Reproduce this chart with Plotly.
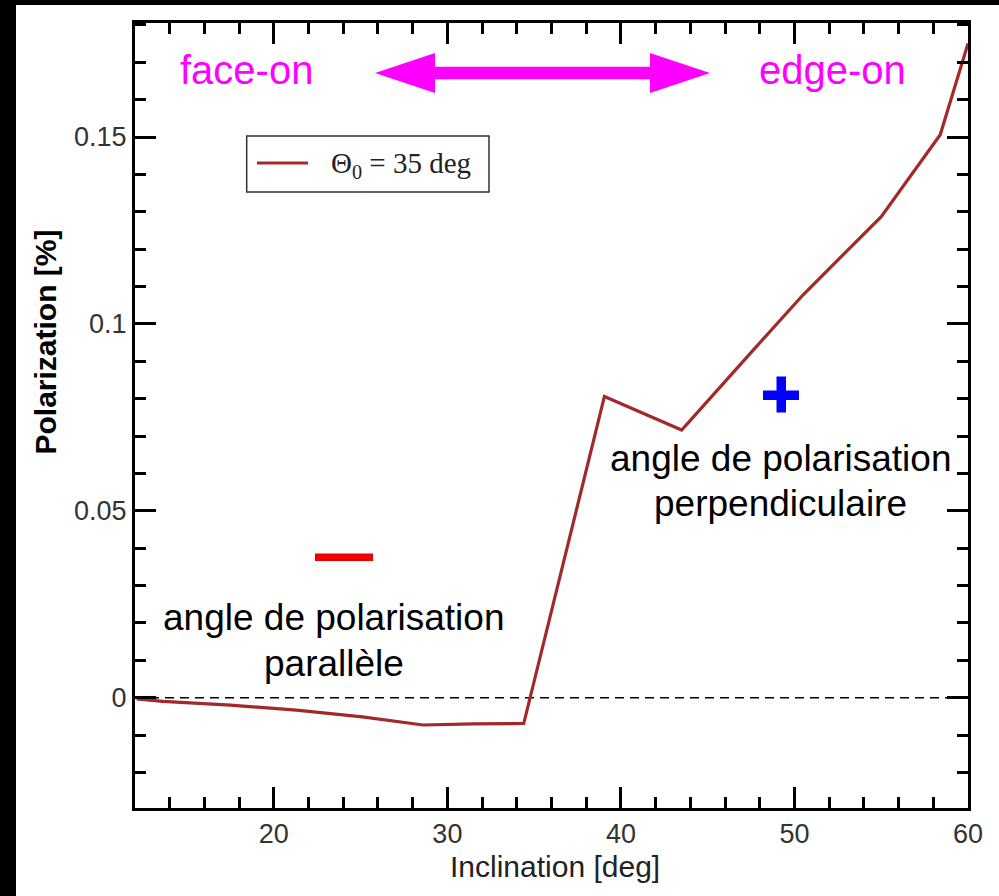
import plotly.graph_objects as go

# ---- data ----
inclination = [12.1, 13.6, 17.5, 21.3, 25.1, 28.6, 31.5, 34.4, 39.05, 43.5, 47.3, 50.5, 55.0, 58.4, 60.0]
polarization = [-0.0003, -0.001, -0.002, -0.0033, -0.0051, -0.0073, -0.007, -0.0069,
                0.0806, 0.0716, 0.0913, 0.1078, 0.1287, 0.1506, 0.175]
series_name = "Θ<sub>0</sub> = 35 deg"
x_ticks = [20, 30, 40, 50, 60]
y_ticks = [0, 0.05, 0.1, 0.15]

# ---- layout geometry (pixels) ----
W, H = 999, 896
L, R, T, B = 135, 968, 23, 808
XR = [12, 60]
YR = [-0.0295, 0.1805]


def X(px):
    return XR[0] + (px - L) / (R - L) * (XR[1] - XR[0])


def Y(py):
    return YR[1] - (py - T) / (B - T) * (YR[1] - YR[0])


def PX(px):
    return (px - L) / (R - L)


def PY(py):
    return (B - py) / (B - T)


LINE_COLOR = "#a3282a"
SANS = "Liberation Sans, Arial, Helvetica, sans-serif"
SERIF = "Liberation Serif, Times New Roman, serif"

fig = go.Figure()
fig.add_trace(go.Scatter(x=inclination, y=polarization, mode="lines",
                         line=dict(color=LINE_COLOR, width=3.2),
                         name=series_name, showlegend=False))

shapes = []
# zero dashed line
shapes.append(dict(type="line", xref="paper", yref="y", x0=0, x1=1, y0=0, y1=0,
                   line=dict(color="black", width=1.6, dash="9px,6px"), layer="below"))
# black frame strips (top and left)
shapes.append(dict(type="rect", xref="paper", yref="paper", x0=PX(0), x1=PX(W), y0=PY(5), y1=PY(-2),
                   fillcolor="black", line=dict(width=0)))
shapes.append(dict(type="rect", xref="paper", yref="paper", x0=PX(-2), x1=PX(16), y0=PY(H + 2), y1=PY(-2),
                   fillcolor="black", line=dict(width=0)))
# double arrow
pts = [(375, 73), (435, 53), (435, 66.7), (650, 66.7), (650, 53), (710, 73),
       (650, 93), (650, 79.3), (435, 79.3), (435, 93)]
path = "M " + " L ".join(f"{X(a):.4f},{Y(b):.5f}" for a, b in pts) + " Z"
shapes.append(dict(type="path", xref="x", yref="y", path=path, fillcolor="#ff00ff",
                   line=dict(width=0)))
# red minus
shapes.append(dict(type="rect", xref="x", yref="y", x0=X(315), x1=X(373), y0=Y(561), y1=Y(553.5),
                   fillcolor="#ee0000", line=dict(width=0)))
# blue plus
shapes.append(dict(type="rect", xref="x", yref="y", x0=X(763), x1=X(799), y0=Y(400), y1=Y(390.5),
                   fillcolor="#0000ff", line=dict(width=0)))
shapes.append(dict(type="rect", xref="x", yref="y", x0=X(776.5), x1=X(786), y0=Y(412.5), y1=Y(376.5),
                   fillcolor="#0000ff", line=dict(width=0)))
# legend box + sample
shapes.append(dict(type="rect", xref="paper", yref="paper", x0=PX(246.7), x1=PX(489), y0=PY(192), y1=PY(136),
                   fillcolor="white", line=dict(color="#333333", width=1.5)))
shapes.append(dict(type="line", xref="paper", yref="paper", x0=PX(257), x1=PX(308), y0=PY(163), y1=PY(163),
                   line=dict(color=LINE_COLOR, width=3.2)))

annotations = []


def txt(text, px, py, size, color="black", family=SANS, xanchor="center", angle=0, bold=False):
    if bold:
        text = f"<b>{text}</b>"
    annotations.append(dict(text=text, xref="paper", yref="paper", x=PX(px), y=PY(py),
                            xanchor=xanchor, yanchor="middle", showarrow=False, textangle=angle,
                            font=dict(size=size, color=color, family=family)))


txt("face-on", 246, 69.5, 40, "#ff00ff")
txt("edge-on", 832.5, 69.5, 40, "#ff00ff")
txt("angle de polarisation", 780, 458, 37)
txt("perpendiculaire", 780, 503.5, 37)
txt("angle de polarisation", 333.5, 617, 37)
txt("parallèle", 333.5, 663, 37)
txt(series_name, 329, 165, 29, "#222222", SERIF, xanchor="left")
txt("Inclination [deg]", 555, 866, 30, "#222222")
txt("Polarization [%]", 45, 342.5, 30, "black", angle=-90, bold=True)

axis_common = dict(showline=True, linecolor="black", linewidth=3, mirror="allticks",
                   ticks="inside", tickcolor="black", tickwidth=2.5, ticklen=21,
                   showgrid=False, zeroline=False,
                   tickfont=dict(size=27, color="#333333", family=SANS))

fig.update_layout(
    width=W, height=H,
    margin=dict(l=L, r=W - R, t=T, b=H - B, pad=0),
    paper_bgcolor="white", plot_bgcolor="white",
    xaxis=dict(range=XR, tickvals=x_ticks,
               minor=dict(dtick=2, tick0=0, ticks="inside", ticklen=11, tickwidth=2.5, tickcolor="black"),
               **axis_common),
    yaxis=dict(range=YR, tickvals=y_ticks, ticktext=["0", "0.05", "0.1", "0.15"],
               minor=dict(dtick=0.01, tick0=0, ticks="inside", ticklen=11, tickwidth=2.5, tickcolor="black"),
               **axis_common),
    shapes=shapes,
    annotations=annotations,
    showlegend=False,
)

fig.write_html("out.html")
